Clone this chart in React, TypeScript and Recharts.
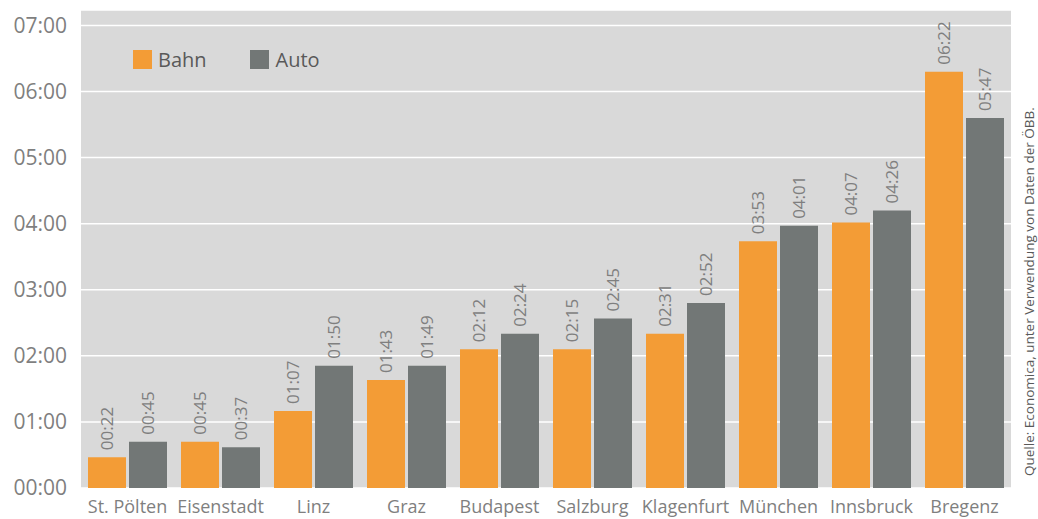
import { BarChart, Bar, XAxis, YAxis, CartesianGrid, LabelList } from "recharts"

const cities = ["St. Pölten", "Eisenstadt", "Linz", "Graz", "Budapest", "Salzburg", "Klagenfurt", "München", "Innsbruck", "Bregenz"]
// bar heights in minutes, as drawn
const bahnMinutes = [28, 42, 70, 98, 126, 126, 140, 224, 241, 378]
const autoMinutes = [42, 37, 111, 111, 140, 154, 168, 238, 252, 336]
// printed labels
const bahnLabels = ["00:22", "00:45", "01:07", "01:43", "02:12", "02:15", "02:31", "03:53", "04:07", "06:22"]
const autoLabels = ["00:45", "00:37", "01:50", "01:49", "02:24", "02:45", "02:52", "04:01", "04:26", "05:47"]
const yTicks = [0, 60, 120, 180, 240, 300, 360, 420]
const sepTicks = [1, 2, 3, 4, 5, 6, 7, 8, 9]

const orange = "#f39c36"
const gray = "#727776"
const textGray = "#7f7f7f"
const font = "'Open Sans', sans-serif"

const data = cities.map((c, i) => ({
  city: c,
  bahn: bahnMinutes[i],
  auto: autoMinutes[i],
  bahnLabel: bahnLabels[i],
  autoLabel: autoLabels[i],
}))

const fmt = (m: number) => String(m / 60).padStart(2, "0") + ":00"

function VLabel(props: any) {
  const { x, y, width, value } = props
  const cx = x + width / 2
  const cy = y - 7
  return (
    <text
      x={cx}
      y={cy}
      transform={`rotate(-90 ${cx} ${cy})`}
      textAnchor="start"
      dy="0.36em"
      fill={textGray}
      fontSize={17}
      fontFamily={font}
    >
      {value}
    </text>
  )
}

export default function App() {
  return (
    <div style={{ position: "absolute", left: 0, top: 0, width: 1038, height: 519, fontFamily: font }}>
      <BarChart
        width={1038}
        height={519}
        data={data}
        margin={{ top: 10, right: 27, bottom: 0, left: 0 }}
        barSize={38}
        barGap={3}
      >
        <CartesianGrid fill="#d9d9d9" stroke="#ffffff" strokeWidth={1.5} vertical={false} />
        <XAxis
          xAxisId="sep"
          type="number"
          domain={[0, 10]}
          ticks={sepTicks}
          tick={false}
          axisLine={false}
          tickLine={{ stroke: "#ffffff", strokeWidth: 1.5 }}
          tickSize={11}
          mirror
          height={0}
        />
        <XAxis
          dataKey="city"
          height={31}
          axisLine={false}
          tickLine={false}
          tickMargin={6}
          interval={0}
          tick={{ fill: textGray, fontSize: 18, fontFamily: font }}
        />
        <YAxis
          width={81}
          domain={[0, 434]}
          ticks={yTicks}
          tickFormatter={fmt}
          axisLine={false}
          tickLine={false}
          tickMargin={8}
          tick={{ fill: textGray, fontSize: 21, fontFamily: font }}
        />
        <Bar dataKey="bahn" fill={orange} isAnimationActive={false}>
          <LabelList dataKey="bahnLabel" content={VLabel} />
        </Bar>
        <Bar dataKey="auto" fill={gray} isAnimationActive={false}>
          <LabelList dataKey="autoLabel" content={VLabel} />
        </Bar>
      </BarChart>
      <div style={{ position: "absolute", left: 133, top: 50, display: "flex", alignItems: "center", fontSize: 20, color: "#595959" }}>
        <span style={{ width: 19, height: 19, background: orange, display: "inline-block" }} />
        <span style={{ marginLeft: 6, lineHeight: "19px" }}>Bahn</span>
        <span style={{ width: 19, height: 19, background: gray, display: "inline-block", marginLeft: 43 }} />
        <span style={{ marginLeft: 7, lineHeight: "19px" }}>Auto</span>
      </div>
      <div
        style={{
          position: "absolute",
          left: 1022,
          top: 92,
          height: 400,
          width: 15,
          writingMode: "vertical-rl",
          transform: "rotate(180deg)",
          textAlign: "center",
          whiteSpace: "nowrap",
          lineHeight: "15px",
          fontSize: 13.5,
          color: "#595959",
        }}
      >
        Quelle: Economica, unter Verwendung von Daten der ÖBB.
      </div>
    </div>
  )
}
